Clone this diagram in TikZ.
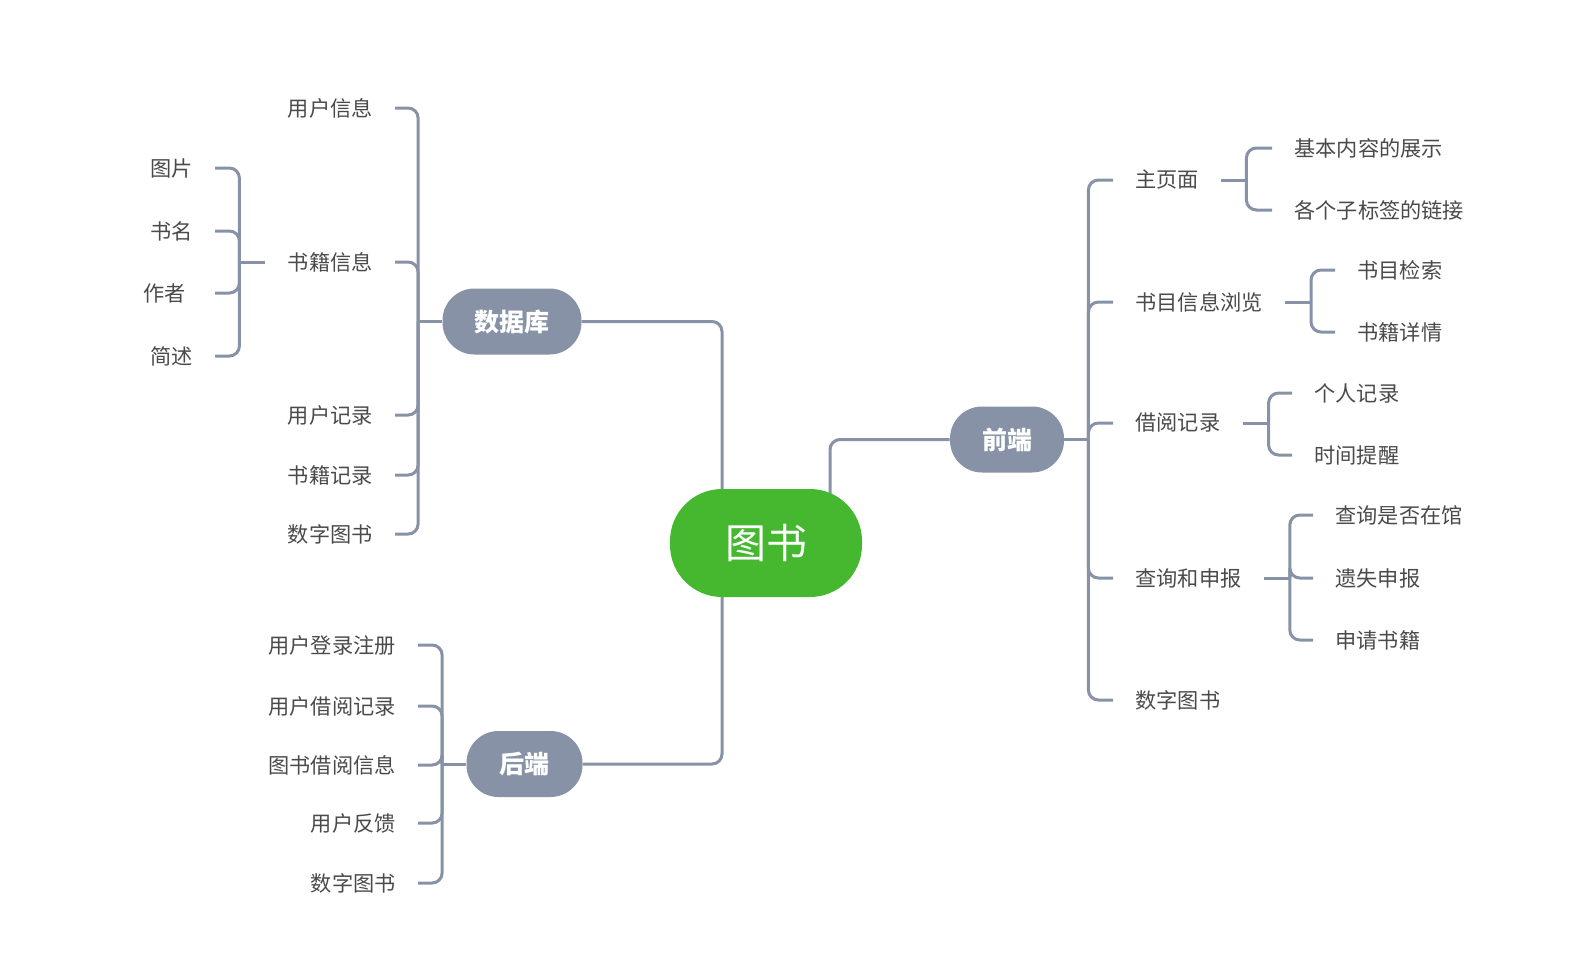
\documentclass[tikz,border=0pt]{standalone}
\usepackage{fontspec}
\newfontfamily\cjk{Noto Sans CJK SC}
\usetikzlibrary{positioning,calc}
\pgfdeclarelayer{background}
\pgfsetlayers{background,main}

\definecolor{linegray}{HTML}{8792A6}
\definecolor{rootgreen}{HTML}{45B830}
\definecolor{textgray}{HTML}{4A4A4A}

\begin{document}
\begin{tikzpicture}[
  x=0.5pt, y=-0.5pt,
  font=\cjk,
  root/.style={
    rectangle,
    rounded corners=26pt,
    fill=rootgreen,
    text=white,
    minimum width=96pt,
    minimum height=54pt,
    font=\cjk\fontsize{20.5}{24}\selectfont
  },
  topic/.style={
    rectangle,
    rounded corners=16pt,
    fill=linegray,
    text=white,
    minimum height=33pt,
    font=\cjk\bfseries\fontsize{12.5}{15}\selectfont
  },
  leaf/.style={
    inner xsep=11pt,
    inner ysep=2pt,
    text=textgray,
    font=\cjk\fontsize{10.6}{12}\selectfont
  },
  leafl/.style={leaf, anchor=east},
  leafr/.style={leaf, anchor=west},
  branch/.style={
    draw=linegray,
    line width=1.5pt,
    rounded corners=5pt
  }
]
\useasboundingbox (0,0) rectangle (1594,976);

% main topics
\node[root] (root) at (766,543) {图书};
\node[topic, minimum width=69.5pt] (db) at (512,321.5) {数据库};
\node[topic, minimum width=57pt] (qd) at (1007,439.5) {前端};
\node[topic, minimum width=58pt] (hd) at (524.5,764) {后端};

\begin{pgfonlayer}{background}
\draw[branch] (db.east) -| ($(root.center)+(-44,0)$);
\draw[branch] (hd.east) -| ($(root.center)+(-44,0)$);
\draw[branch] (qd.west) -| ($(root.center)+(64,0)$);
\end{pgfonlayer}

% 数据库
\node[leafl] (yhxx) at (395,108) {用户信息};
\node[leafl] (sjxx) at (395,262) {书籍信息};
\node[leafl] (yhjl) at (395,415) {用户记录};
\node[leafl] (sjjl) at (395,475) {书籍记录};
\node[leafl] (szts1) at (395,534) {数字图书};
\draw[branch] (db.west) -- ++(-24,0) coordinate (jdb);
\foreach \n in {yhxx,sjxx,yhjl,sjjl,szts1}
  \draw[branch] (jdb) |- (\n.east);

\node[leafl] (tp) at (215,168) {图片};
\node[leafl] (sm) at (215,231) {书名};
\node[leafl] (zz) at (215,293) {作者\kern3.5pt};
\node[leafl] (js) at (215,356) {简述};
\draw[branch] (sjxx.west) -- ++(-26,0) coordinate (jsj);
\foreach \n in {tp,sm,zz,js}
  \draw[branch] (jsj) |- (\n.east);

% 后端
\node[leafl] (dlzc) at (418,645) {用户登录注册};
\node[leafl] (yhjy) at (418,706) {用户借阅记录};
\node[leafl] (tsjy) at (418,765) {图书借阅信息};
\node[leafl] (yhfk) at (418,823) {用户反馈};
\node[leafl] (szts2) at (418,883) {数字图书};
\draw[branch] (hd.west) -- ++(-24,0) coordinate (jhd);
\foreach \n in {dlzc,yhjy,tsjy,yhfk,szts2}
  \draw[branch] (jhd) |- (\n.east);

% 前端
\node[leafr] (zym) at (1113,180) {主页面};
\node[leafr] (smxx) at (1113,302) {书目信息浏览};
\node[leafr] (jyjl) at (1113,423) {借阅记录};
\node[leafr] (cxsb) at (1113,578) {查询和申报};
\node[leafr] (szts3) at (1113,700) {数字图书};
\draw[branch] (qd.east) -- ++(24,0) coordinate (jqd);
\foreach \n in {zym,smxx,jyjl,cxsb,szts3}
  \draw[branch] (jqd) |- (\n.west);

\node[leafr] (jbnr) at (1272,148) {基本内容的展示};
\node[leafr] (zbq) at (1272,210) {各个子标签的链接};
\draw[branch] (zym.east) -- ++(25,0) coordinate (jzym);
\foreach \n in {jbnr,zbq}
  \draw[branch] (jzym) |- (\n.west);

\node[leafr] (smjs) at (1335,270) {书目检索};
\node[leafr] (sjxq) at (1335,332) {书籍详情};
\draw[branch] (smxx.east) -- ++(26,0) coordinate (jsmxx);
\foreach \n in {smjs,sjxq}
  \draw[branch] (jsmxx) |- (\n.west);

\node[leafr] (grjl) at (1292,393) {个人记录};
\node[leafr] (sjtx) at (1292,455) {时间提醒};
\draw[branch] (jyjl.east) -- ++(26,0) coordinate (jjyjl);
\foreach \n in {grjl,sjtx}
  \draw[branch] (jjyjl) |- (\n.west);

\node[leafr] (sfzg) at (1313,515) {查询是否在馆};
\node[leafr] (yssb) at (1313,578) {遗失申报};
\node[leafr] (sqsj) at (1313,640) {申请书籍};
\draw[branch] (cxsb.east) -- ++(26,0) coordinate (jcxsb);
\foreach \n in {sfzg,yssb,sqsj}
  \draw[branch] (jcxsb) |- (\n.west);

\end{tikzpicture}
\end{document}
